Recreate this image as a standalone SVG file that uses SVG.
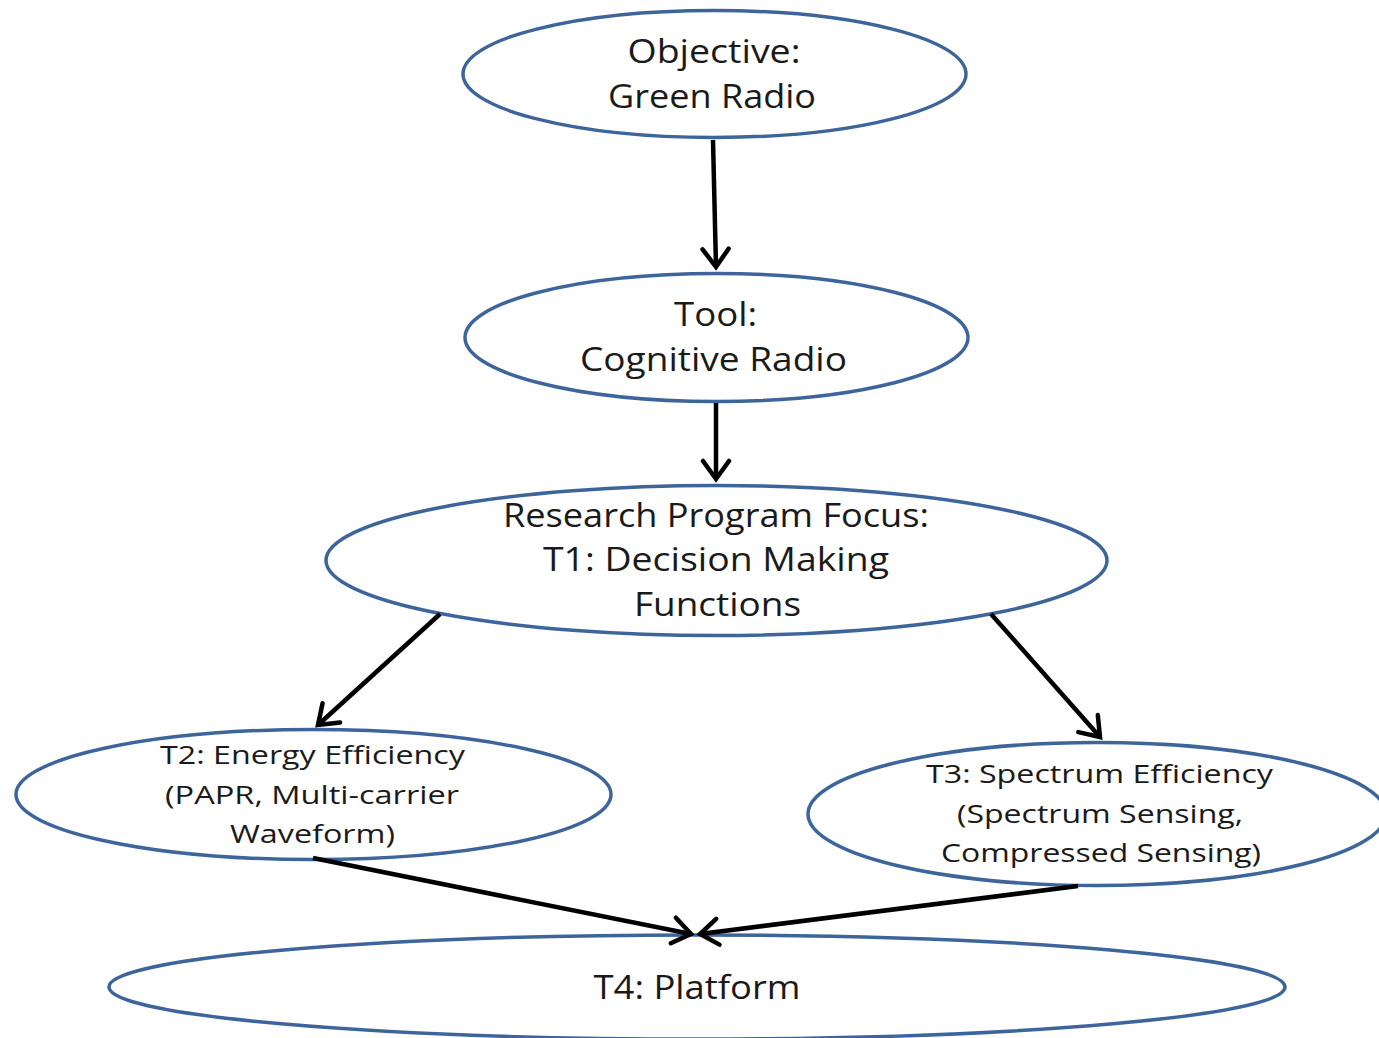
<svg xmlns="http://www.w3.org/2000/svg" width="1379" height="1038" viewBox="0 0 1379 1038">
  <defs>
    <marker id="head" markerUnits="userSpaceOnUse" viewBox="-22 -16 26 32" markerWidth="26" markerHeight="32" refX="0" refY="0" orient="auto">
      <path d="M-18,-13 L0,0 L-18,13" fill="none" stroke="#000" stroke-width="4.5" stroke-linecap="round" stroke-linejoin="miter"/>
    </marker>
    <style>
      .node ellipse { fill: #fff; stroke: #3d659c; stroke-width: 3.5; }
      .big { font-family: "Open Sans", "Noto Sans", sans-serif; font-size: 32px; fill: #1a1a1a; text-anchor: middle; }
      .small { font-family: "Open Sans", "Noto Sans", sans-serif; font-size: 25px; fill: #1a1a1a; text-anchor: middle; }
      #connectors line { stroke: #000; stroke-width: 4.5; marker-end: url(#head); }
    </style>
  </defs>
  <rect width="1379" height="1038" fill="#fff"/>

  <g id="n-t4" class="node">
    <ellipse cx="697" cy="987" rx="588" ry="52"/>
    <text class="big" x="697" y="999" textLength="207" lengthAdjust="spacingAndGlyphs">T4: Platform</text>
  </g>

  <g id="n-objective" class="node">
    <ellipse cx="714.5" cy="74" rx="251.5" ry="63.5"/>
    <text class="big" x="714" y="63" textLength="173" lengthAdjust="spacingAndGlyphs">Objective:</text>
    <text class="big" x="712" y="108" textLength="208" lengthAdjust="spacingAndGlyphs">Green Radio</text>
  </g>

  <g id="n-tool" class="node">
    <ellipse cx="716.5" cy="337.5" rx="251.5" ry="64"/>
    <text class="big" x="715.5" y="326" textLength="83" lengthAdjust="spacingAndGlyphs">Tool:</text>
    <text class="big" x="713.5" y="371" textLength="267" lengthAdjust="spacingAndGlyphs">Cognitive Radio</text>
  </g>

  <g id="n-t1" class="node">
    <ellipse cx="716.5" cy="560.5" rx="390.5" ry="75"/>
    <text class="big" x="716" y="527" textLength="426" lengthAdjust="spacingAndGlyphs">Research Program Focus:</text>
    <text class="big" x="716" y="571" textLength="346" lengthAdjust="spacingAndGlyphs">T1: Decision Making</text>
    <text class="big" x="717.5" y="616" textLength="167" lengthAdjust="spacingAndGlyphs">Functions</text>
  </g>

  <g id="n-t2" class="node">
    <ellipse cx="313.5" cy="794.5" rx="297.5" ry="65"/>
    <text class="small" x="312.5" y="764" textLength="305" lengthAdjust="spacingAndGlyphs">T2: Energy  Efficiency</text>
    <text class="small" x="312" y="804" textLength="294" lengthAdjust="spacingAndGlyphs">(PAPR, Multi-carrier</text>
    <text class="small" x="312.5" y="843" textLength="165" lengthAdjust="spacingAndGlyphs">Waveform)</text>
  </g>

  <g id="n-t3" class="node">
    <ellipse cx="1097" cy="814" rx="289" ry="71.5"/>
    <text class="small" x="1099.5" y="783" textLength="347" lengthAdjust="spacingAndGlyphs">T3: Spectrum  Efficiency</text>
    <text class="small" x="1100" y="823" textLength="286" lengthAdjust="spacingAndGlyphs">(Spectrum  Sensing,</text>
    <text class="small" x="1101" y="862" textLength="320" lengthAdjust="spacingAndGlyphs">Compressed  Sensing)</text>
  </g>

  <g id="connectors">
    <line x1="713" y1="140" x2="716" y2="267"/>
    <line x1="716" y1="403" x2="716" y2="479"/>
    <line x1="440" y1="614" x2="318" y2="725"/>
    <line x1="991" y1="614" x2="1100" y2="737"/>
    <line x1="313" y1="858" x2="691" y2="934"/>
    <line x1="1078" y1="886" x2="700" y2="934"/>
  </g>
</svg>
